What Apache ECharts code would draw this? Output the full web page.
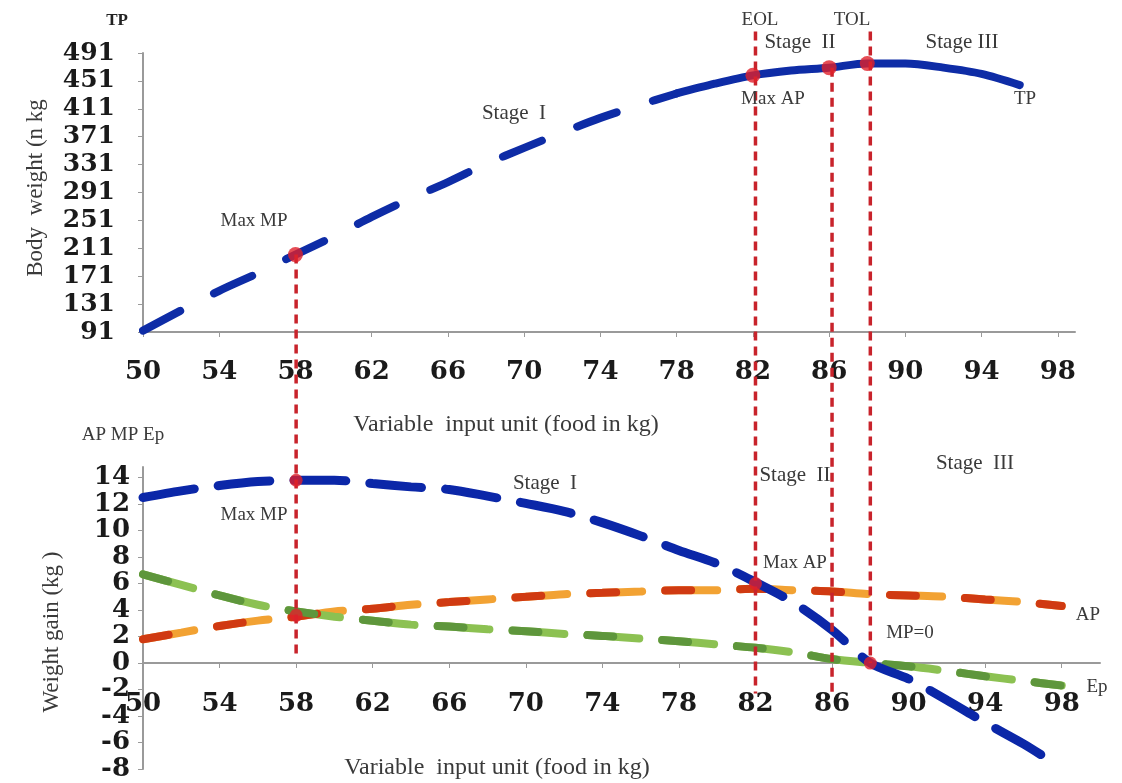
<!DOCTYPE html>
<html>
<head>
<meta charset="utf-8">
<script src="https://cdn.jsdelivr.net/npm/echarts@6/dist/echarts.min.js"></script>
<style>
html, body { margin: 0; padding: 0; background: #fff; }
#main { width: 1122px; height: 783px; }
</style>
</head>
<body>
<div id="main"></div>
<script>

// top panel: total product (body weight)
var tpX = [50, 52, 54, 56, 58, 60, 62, 64, 66, 68, 70, 72, 74, 76, 78, 80, 82, 84, 86, 88, 90, 92, 94, 96];
var tpVals = [93, 122, 150, 175, 202, 228, 256, 282, 306, 332, 355, 377, 398, 416, 433, 447, 459, 466, 470, 476, 476, 470, 461, 445];
var tpDots = [[58, 202], [82, 459], [86, 470], [88, 476]];
var tpSolidFrom = 78; // right part of TP is drawn solid

// bottom panel: MP, AP, Ep
var mpX = [50, 52, 54, 56, 58, 60, 62, 64, 66, 68, 70, 72, 74, 76, 78, 80, 82, 84, 86, 88, 90, 92, 94, 96, 97];
var mpVals = [12.5, 13.0, 13.4, 13.7, 13.8, 13.8, 13.55, 13.3, 13.1, 12.6, 12.05, 11.45, 10.6, 9.6, 8.5, 7.5, 6.1, 4.55, 2.5, 0, -1.2, -2.8, -4.5, -6.1, -7.0];
var apX = [50, 52, 54, 56, 58, 60, 62, 64, 66, 68, 70, 72, 74, 76, 78, 80, 82, 84, 86, 88, 90, 92, 94, 96, 98];
var apVals = [1.8, 2.3, 2.8, 3.2, 3.5, 3.9, 4.1, 4.4, 4.6, 4.8, 5.0, 5.2, 5.3, 5.4, 5.5, 5.5, 5.6, 5.5, 5.4, 5.2, 5.1, 5.0, 4.8, 4.6, 4.3];
var epVals = [6.7, 5.9, 5.1, 4.4, 3.9, 3.5, 3.2, 2.9, 2.75, 2.55, 2.4, 2.2, 2.05, 1.85, 1.65, 1.4, 1.15, 0.8, 0.3, 0.0, -0.25, -0.6, -1.0, -1.35, -1.7];
var bottomDots = [[58, 3.6], [58, 13.8], [82, 6.0], [88, 0]];

// vertical guide lines: x, start (top panel value), end (bottom panel value)
var vLines = [[58, 202, 0.6], [82, 522, -2.3], [86, 470, -2.3], [88, 522, 0]];

var yTopTicks = { min: 91, max: 491, interval: 40 };
var yBotTicks = { min: -8, max: 14.8, interval: 2 };

function pairs(xs, ys) {
	var out = [];
	for (var i = 0; i < xs.length; i++) {
		out.push([xs[i], ys[i]]);
	}
	return out;
}

var myChart = echarts.init(document.getElementById('main'));

var serif = "'Liberation Serif', 'DejaVu Serif', serif";
var tickFamily = "'DejaVu Serif', serif";

function txt(text, x, y, size, extra) {
	var el = {
		type: 'text',
		x: x,
		y: y,
		z: 20,
		style: {
			text: text,
			fontFamily: serif,
			fontSize: size,
			fill: '#3a3a3a',
			textAlign: 'center',
			textVerticalAlign: 'middle'
		}
	};
	if (extra) {
		for (var k in extra) el[k] = extra[k];
	}
	return el;
}

function dashLine(name, xi, data, color, width, dash, offset, z) {
	return {
		name: name,
		type: 'line',
		xAxisIndex: xi,
		yAxisIndex: xi,
		data: data,
		smooth: 0.3,
		symbol: 'none',
		z: z || 2,
		lineStyle: { color: color, width: width, type: dash, dashOffset: offset || 0, cap: 'round' }
	};
}

var gray = '#9a9a9a';
var tpAll = pairs(tpX, tpVals);

var option = {
	backgroundColor: '#fff',
	animation: false,
	grid: [
		{ left: 143, top: 53, width: 932, height: 279, outerBoundsMode: 'none' },
		{ left: 143, top: 467, width: 957, height: 302, outerBoundsMode: 'none' },
		// axis-only grid whose bottom edge sits on the zero line of the lower panel
		{ left: 143, top: 467, width: 957, height: 196, outerBoundsMode: 'none' }
	],
	xAxis: [
		{
			gridIndex: 0, type: 'value', min: 50, max: 98.9, interval: 4,
			axisLine: { lineStyle: { color: gray, width: 2 } },
			axisTick: { show: true, length: 5, lineStyle: { color: gray } },
			axisLabel: { margin: 27, showMaxLabel: false, fontFamily: tickFamily, fontWeight: 'bold', fontSize: 26, color: '#1a1a1a' },
			splitLine: { show: false }
		},
		{
			gridIndex: 1, type: 'value', min: 50, max: 100, interval: 4,
			axisLine: { show: false }, axisTick: { show: false }, axisLabel: { show: false },
			splitLine: { show: false }
		},
		{
			gridIndex: 2, type: 'value', min: 50, max: 100, interval: 4,
			axisLine: { onZero: false, lineStyle: { color: gray, width: 2 } },
			axisTick: { show: true, length: 5, lineStyle: { color: gray } },
			axisLabel: { margin: 28, showMaxLabel: false, fontFamily: tickFamily, fontWeight: 'bold', fontSize: 26, color: '#1a1a1a' },
			splitLine: { show: false }
		}
	],
	yAxis: [
		{
			gridIndex: 0, type: 'value', min: yTopTicks.min, max: yTopTicks.max, interval: yTopTicks.interval,
			axisLine: { show: true, lineStyle: { color: gray, width: 2 } },
			axisTick: { show: true, length: 5, lineStyle: { color: gray } },
			axisLabel: { margin: 28, fontFamily: tickFamily, fontWeight: 'bold', fontSize: 25, color: '#1a1a1a' },
			splitLine: { show: false }
		},
		{
			gridIndex: 1, type: 'value', min: yBotTicks.min, max: yBotTicks.max, interval: yBotTicks.interval,
			axisLine: { show: true, onZero: false, lineStyle: { color: gray, width: 2 } },
			axisTick: { show: true, length: 5, lineStyle: { color: gray } },
			axisLabel: { margin: 13, showMaxLabel: false, fontFamily: tickFamily, fontWeight: 'bold', fontSize: 26, color: '#1a1a1a' },
			splitLine: { show: false }
		},
		{
			gridIndex: 2, type: 'value', min: 0, max: 14.8, show: false
		}
	],
	series: [
		dashLine('TP', 0, tpAll.filter(function (p) { return p[0] <= tpSolidFrom; }), '#0e2ca6', 8, [42, 38], 0, 2),
		dashLine('TP solid', 0, tpAll.filter(function (p) { return p[0] >= tpSolidFrom; }), '#0e2ca6', 8, 'solid', 0, 2),
		dashLine('AP', 1, pairs(apX, apVals), '#f2a233', 8, [52, 23], 0, 2),
		dashLine('AP2', 1, pairs(apX, apVals), '#d03a12', 8, [26, 49], 0, 3),
		dashLine('Ep', 1, pairs(apX, epVals), '#8cc152', 8, [52, 23], 0, 2),
		dashLine('Ep2', 1, pairs(apX, epVals), '#5e963c', 8, [26, 49], 0, 3),
		dashLine('MP', 1, pairs(mpX, mpVals), '#0b27a8', 9, [52, 24], 0, 3),
		{
			name: 'guides',
			type: 'custom',
			xAxisIndex: 1,
			yAxisIndex: 1,
			z: 6,
			data: vLines,
			encode: { x: 0, y: 2 },
			renderItem: function (params, api) {
				var end = api.coord([api.value(0), api.value(2)]);
				var yTop = myChart.convertToPixel({ yAxisIndex: 0 }, api.value(1));
				return {
					type: 'line',
					shape: { x1: end[0], y1: yTop, x2: end[0], y2: end[1] },
					style: { stroke: '#c8232b', lineWidth: 3.5, lineDash: [9, 6] }
				};
			}
		},
		{
			name: 'tpDots', type: 'scatter', xAxisIndex: 0, yAxisIndex: 0, z: 8,
			data: tpDots, symbolSize: 15, itemStyle: { color: '#e0202a' }
		},
		{
			name: 'botDots', type: 'scatter', xAxisIndex: 1, yAxisIndex: 1, z: 8,
			data: bottomDots, symbolSize: 13, itemStyle: { color: '#e0202a' }
		}
	],
	graphic: [
		// top panel texts
		txt('TP', 117, 21, 17, { style: { text: 'TP', fontFamily: serif, fontSize: 17, fontWeight: 'bold', fill: '#222', textAlign: 'center', textVerticalAlign: 'middle' } }),
		txt('Body  weight (n kg', 36, 188, 23, { rotation: Math.PI / 2 }),
		txt('Variable  input unit (food in kg)', 506, 425, 24),
		txt('EOL', 760, 20, 19),
		txt('TOL', 852, 20, 19),
		txt('Stage  II', 800, 42, 21),
		txt('Stage III', 962, 42, 21),
		txt('Stage  I', 514, 113, 21),
		txt('Max AP', 773, 99, 19),
		txt('TP', 1025, 99, 19),
		txt('Max MP', 254, 221, 19),
		// bottom panel texts
		txt('AP MP Ep', 123, 435, 19),
		txt('Weight gain (kg )', 52, 632, 23, { rotation: Math.PI / 2 }),
		txt('Variable  input unit (food in kg)', 497, 768, 24),
		txt('Stage  I', 545, 483, 21),
		txt('Stage  II', 795, 475, 21),
		txt('Stage  III', 975, 463, 21),
		txt('Max MP', 254, 515, 19),
		txt('Max AP', 795, 563, 19),
		txt('MP=0', 910, 633, 19),
		txt('AP', 1088, 615, 19),
		txt('Ep', 1097, 687, 19)
	]
};

myChart.setOption(option);

</script>
</body>
</html>
